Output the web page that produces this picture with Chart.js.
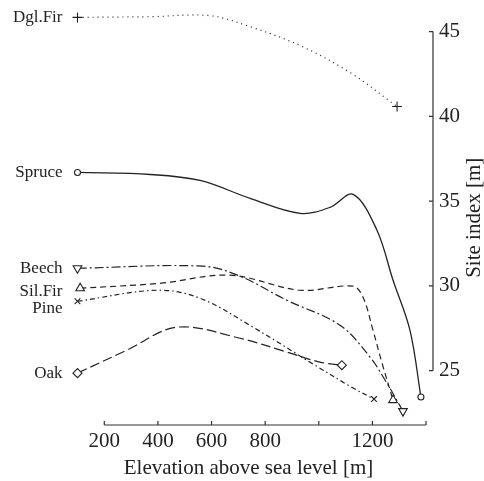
<!DOCTYPE html>
<html>
<head>
<meta charset="utf-8">
<script src="https://cdn.jsdelivr.net/npm/chart.js@4.4.1/dist/chart.umd.min.js"></script>
<style>
  html, body { margin: 0; padding: 0; background: #fff; }
  #wrap { width: 484px; height: 481px; position: relative; }
</style>
</head>
<body>
<div id="wrap"><canvas id="chart"></canvas></div>
<script>
// species names, drawn as labels next to the first point
const species = ['Dgl.Fir', 'Spruce', 'Beech', 'Sil.Fir', 'Pine', 'Oak'];

// elevation [m] / site index [m]
const dglFirX = [100, 371, 594, 744, 930, 1117, 1292];
const dglFirY = [45.84, 45.88, 45.94, 45.29, 44.18, 42.58, 40.58];

const spruceX = [100, 371, 557, 744, 930, 1042, 1128, 1217, 1277, 1340, 1381];
const spruceY = [36.69, 36.57, 36.22, 35.16, 34.28, 34.63, 35.40, 33.28, 30.33, 27.39, 23.44];

const beechX = [100, 568, 706, 881, 1079, 1191, 1254, 1314];
const beechY = [31.04, 31.16, 30.57, 29.15, 27.68, 25.80, 24.26, 22.61];

const silFirX = [110, 408, 669, 930, 1128, 1165, 1202, 1236, 1277];
const silFirY = [29.86, 30.15, 30.63, 29.74, 29.98, 29.33, 27.39, 25.44, 23.26];

const pineX = [100, 397, 557, 755, 967, 1128, 1206];
const pineY = [29.09, 29.74, 29.27, 27.56, 25.50, 23.97, 23.32];

const oakX = [100, 285, 471, 706, 881, 1004, 1086];
const oakY = [24.85, 26.21, 27.56, 26.91, 26.09, 25.50, 25.32];

const xTicks = [200, 400, 600, 800, 1000, 1200, 1400];
const xTickLabels = ['200', '400', '600', '800', '', '1200', ''];
const yTicks = [25, 30, 35, 40, 45];
const yTickLabels = ['25', '30', '35', '40', '45'];

const seriesX = [dglFirX, spruceX, beechX, silFirX, pineX, oakX];
const seriesY = [dglFirY, spruceY, beechY, silFirY, pineY, oakY];

const ink = '#222';
const serif = '"Liberation Serif", "Times New Roman", serif';

const markers = ['cross', 'circle', 'triangle', 'triangle', 'crossRot', 'rectRot'];
const markerRot = [0, 0, 180, 0, 0, 0];
const markerSize = [5, 3, 5, 5, 4, 4.5];
const dashes = [[1, 4], [], [9, 3, 2, 3], [6, 4], [5, 3, 1.5, 3], [10, 4]];
const labelDy = [0, 0, 0, 3, 7, 0];

const datasets = species.map((name, i) => {
    const xs = seriesX[i], ys = seriesY[i];
    const last = xs.length - 1;
    return {
        label: name,
        data: xs.map((x, j) => ({ x: x, y: ys[j] })),
        borderColor: ink,
        borderWidth: i === 1 ? 1.3 : 1.2,
        borderDash: dashes[i],
        tension: 0.35,
        fill: false,
        pointStyle: markers[i],
        rotation: markerRot[i],
        pointRadius: ctx => (ctx.dataIndex === 0 || ctx.dataIndex === last) ? markerSize[i] : 0,
        pointBorderColor: ink,
        pointBackgroundColor: '#fff',
        pointBorderWidth: 1.1
    };
});

// range-frame axes, series labels and the right axis title
const decorations = {
    id: 'decorations',
    afterDraw(chart) {
        const ctx = chart.ctx;
        const xs = chart.scales.x, ys = chart.scales.y;
        const area = chart.chartArea;
        ctx.save();
        ctx.strokeStyle = '#333';
        ctx.lineWidth = 1.2;
        ctx.beginPath();
        ctx.moveTo(xs.getPixelForValue(xTicks[0]), area.bottom);
        ctx.lineTo(xs.getPixelForValue(xTicks[xTicks.length - 1]), area.bottom);
        xTicks.forEach(v => {
            const px = xs.getPixelForValue(v);
            ctx.moveTo(px, area.bottom);
            ctx.lineTo(px, area.bottom - 4);
        });
        ctx.moveTo(area.right, ys.getPixelForValue(yTicks[0]));
        ctx.lineTo(area.right, ys.getPixelForValue(yTicks[yTicks.length - 1]));
        yTicks.forEach(v => {
            const py = ys.getPixelForValue(v);
            ctx.moveTo(area.right, py);
            ctx.lineTo(area.right - 4, py);
        });
        ctx.stroke();

        ctx.fillStyle = ink;
        ctx.font = '17px ' + serif;
        ctx.textAlign = 'right';
        ctx.textBaseline = 'middle';
        const labelX = xs.getPixelForValue(100) - 15;
        chart.data.datasets.forEach((ds, i) => {
            const p = chart.getDatasetMeta(i).data[0];
            ctx.fillText(ds.label, labelX, p.y + labelDy[i]);
        });

        ctx.font = '21px ' + serif;
        ctx.textAlign = 'center';
        ctx.translate(474, (area.top + area.bottom) / 2);
        ctx.rotate(-Math.PI / 2);
        ctx.fillText('Site index [m]', 0, 0);
        ctx.restore();
    }
};

new Chart(document.getElementById('chart'), {
    type: 'line',
    data: { datasets: datasets },
    options: {
        responsive: true,
        maintainAspectRatio: false,
        animation: false,
        layout: { padding: { left: 64, top: 10, right: 0, bottom: 0 } },
        plugins: { legend: { display: false }, tooltip: { enabled: false } },
        scales: {
            x: {
                type: 'linear',
                min: 49.7,
                max: 1426,
                afterBuildTicks: s => { s.ticks = xTicks.map(v => ({ value: v })); },
                afterFit: s => { s.height = 56; },
                grid: { display: false },
                border: { display: false },
                ticks: {
                    autoSkip: false,
                    maxRotation: 0,
                    padding: -4,
                    color: ink,
                    font: { family: serif, size: 21 },
                    callback: (v, i) => xTickLabels[i]
                },
                title: {
                    display: true,
                    text: 'Elevation above sea level [m]',
                    color: ink,
                    font: { family: serif, size: 21 },
                    padding: { top: 0, bottom: 0 }
                }
            },
            y: {
                type: 'linear',
                position: 'right',
                min: 21.79,
                max: 46.24,
                afterBuildTicks: s => { s.ticks = yTicks.map(v => ({ value: v })); },
                afterFit: s => { s.width = 51; },
                grid: { display: false },
                border: { display: false },
                ticks: {
                    padding: -2,
                    color: ink,
                    font: { family: serif, size: 21 },
                    callback: (v, i) => yTickLabels[i]
                }
            }
        }
    },
    plugins: [decorations]
});
</script>
</body>
</html>
